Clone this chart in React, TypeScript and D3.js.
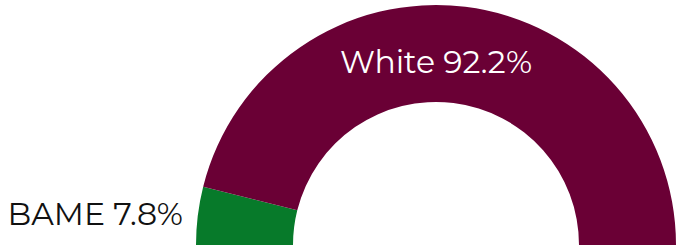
import * as d3 from 'd3'

// ethnicity split, percent
const categories = ['BAME', 'White']
const values = [7.8, 92.2]
const colors = ['#077a2a', '#6a0035']

const width = 680
const height = 249

export default function App() {
  const cx = 436
  const cy = 245
  const outer = 240
  const inner = 143

  const pie = d3.pie<number>()
    .sort(null)
    .startAngle(-Math.PI / 2)
    .endAngle(Math.PI / 2)
  const arcs = pie(values)

  const arc = d3.arc<d3.PieArcDatum<number>>()
    .innerRadius(inner)
    .outerRadius(outer)

  const font = 'Montserrat, "DejaVu Sans", sans-serif'

  return (
    <svg
      width={width}
      height={height}
      style={{ position: 'absolute', left: 0, top: 0 }}
    >
      <g transform={`translate(${cx},${cy})`}>
        {arcs.map((a, i) => (
          <path key={categories[i]} d={arc(a) || ''} fill={colors[i]} />
        ))}
      </g>
      {/* white label sits inside the band, centred */}
      <text
        x={cx}
        y={73}
        textAnchor="middle"
        fill="#ffffff"
        fontFamily={font}
        fontSize={31.5}
      >
        {`${categories[1]} ${values[1]}%`}
      </text>
      {/* BAME label outside, left of the arc */}
      <text
        x={183}
        y={225}
        textAnchor="end"
        fill="#111111"
        fontFamily={font}
        fontSize={31.5}
      >
        {`${categories[0]} ${values[0]}%`}
      </text>
    </svg>
  )
}
